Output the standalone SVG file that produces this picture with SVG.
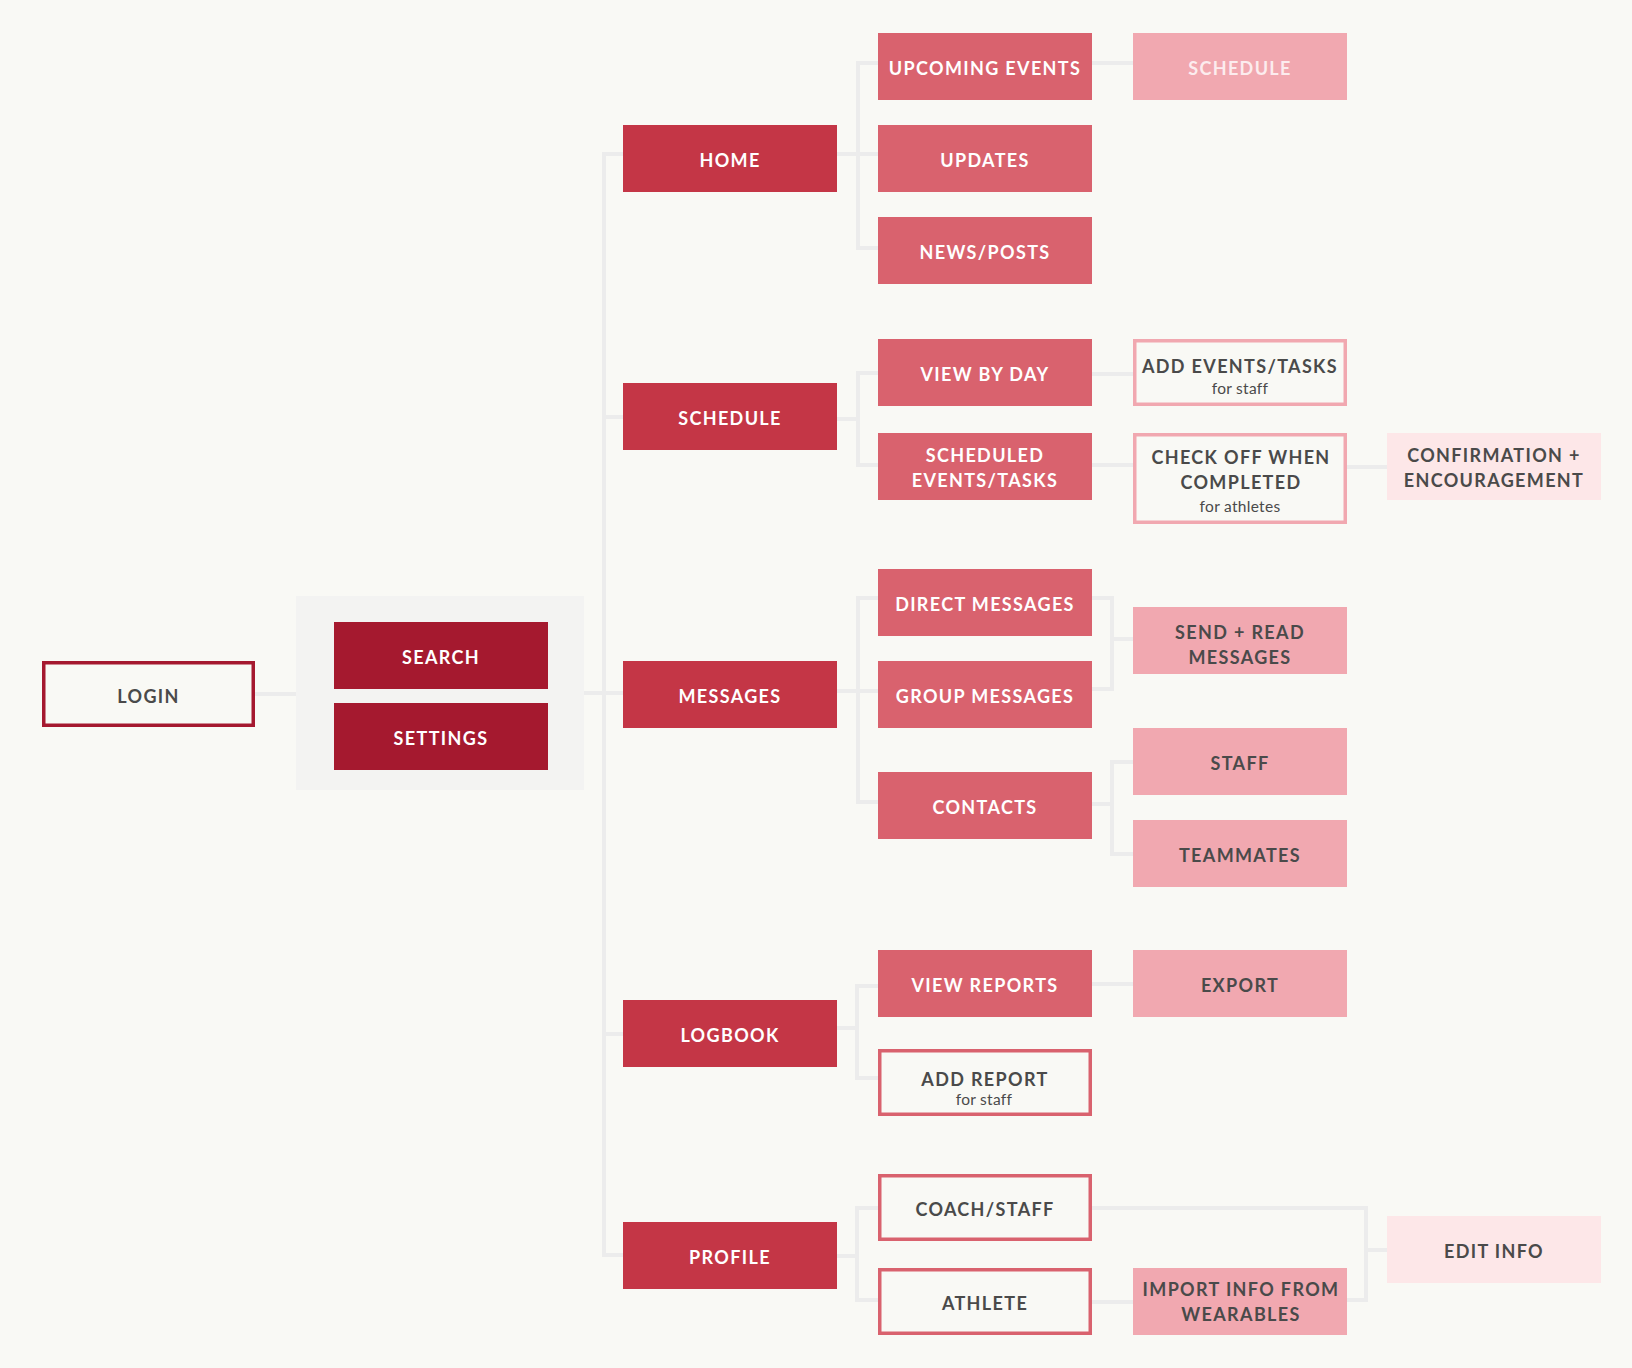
<svg xmlns="http://www.w3.org/2000/svg" width="1632" height="1368" viewBox="0 0 1632 1368">
<defs>
<style>
.bg{fill:#f9f9f5}
.c{fill:none;stroke:#ececec;stroke-width:4}
.d1{fill:#a5192f}
.d2{fill:#c43646}
.d3{fill:#d9626e}
.d4{fill:#f1a8b0}
.d5{fill:#fde7e8}
.o1{fill:#f9f9f5;stroke:#a5192f;stroke-width:3.5}
.o3{fill:#f9f9f5;stroke:#d9626e;stroke-width:3.5}
.o4{fill:#f9f9f5;stroke:#f1a8b0;stroke-width:3.5}
text{font-family:Lato,"Liberation Sans",sans-serif;font-size:18px;font-weight:700;letter-spacing:1.35px;text-anchor:middle}
.w{fill:#ffffff}
.lw{fill:#fcecee}
.k{fill:#4a4a4a}
.s{font-size:15.5px;font-weight:400;letter-spacing:0.3px;fill:#4a4a4a}
</style>
</defs>
<rect class="bg" x="0" y="0" width="1632" height="1368"/>
<rect x="296" y="596" width="288" height="194" fill="#f3f3f2"/>
<g id="connectors">
<path class="c" d="M255,694 H296"/>
<path class="c" d="M584,693 H604"/>
<path class="c" d="M623,154 H604 V1255 H623 M604,417 H623 M604,693 H623 M604,1034 H623"/>
<path class="c" d="M837,154 H878 M878,63 H858 V248 H878 M1092,63 H1133"/>
<path class="c" d="M837,419 H858 M878,373 H858 V465 H878 M1092,374 H1133 M1092,465 H1133 M1347,467 H1387"/>
<path class="c" d="M837,691 H878 M878,598 H858 V802 H878 M1092,598 H1112 V689 H1092 M1112,639 H1133 M1092,804 H1112 M1133,762 H1112 V854 H1133"/>
<path class="c" d="M837,1028 H858 M878,986 H857 V1078 H878 M1092,984 H1133"/>
<path class="c" d="M837,1256 H857 M878,1208 H857 V1300 H878 M1092,1208 H1366 V1300 H1347 M1366,1250 H1387 M1092,1302 H1133"/>
</g>
<g id="login"><rect class="o1" x="43.75" y="662.75" width="209.5" height="62.5"/><text class="k" x="148.5" y="703">LOGIN</text></g>
<g id="search"><rect class="d1" x="334" y="622" width="214" height="67"/><text class="w" x="441" y="664">SEARCH</text></g>
<g id="settings"><rect class="d1" x="334" y="703" width="214" height="67"/><text class="w" x="441" y="745">SETTINGS</text></g>

<g id="home"><rect class="d2" x="623" y="125" width="214" height="67"/><text class="w" x="730" y="167">HOME</text></g>
<g id="upcoming-events"><rect class="d3" x="878" y="33" width="214" height="67"/><text class="w" x="985" y="75">UPCOMING EVENTS</text></g>
<g id="updates"><rect class="d3" x="878" y="125" width="214" height="67"/><text class="w" x="985" y="167">UPDATES</text></g>
<g id="news-posts"><rect class="d3" x="878" y="217" width="214" height="67"/><text class="w" x="985" y="259">NEWS/POSTS</text></g>
<g id="schedule-home"><rect class="d4" x="1133" y="33" width="214" height="67"/><text class="lw" x="1240" y="75">SCHEDULE</text></g>

<g id="schedule"><rect class="d2" x="623" y="383" width="214" height="67"/><text class="w" x="730" y="425">SCHEDULE</text></g>
<g id="view-by-day"><rect class="d3" x="878" y="339" width="214" height="67"/><text class="w" x="985" y="381">VIEW BY DAY</text></g>
<g id="scheduled-events"><rect class="d3" x="878" y="433" width="214" height="67"/><text class="w" x="985" y="462">SCHEDULED</text><text class="w" x="985" y="487">EVENTS/TASKS</text></g>
<g id="add-events"><rect class="o4" x="1134.75" y="340.75" width="210.5" height="63.5"/><text class="k" x="1240" y="373">ADD EVENTS/TASKS</text><text class="s" x="1240" y="394">for staff</text></g>
<g id="check-off"><rect class="o4" x="1134.75" y="434.75" width="210.5" height="87.5"/><text class="k" x="1241" y="464">CHECK OFF WHEN</text><text class="k" x="1241" y="489">COMPLETED</text><text class="s" x="1240" y="511.5">for athletes</text></g>
<g id="confirmation"><rect class="d5" x="1387" y="433" width="214" height="67"/><text class="k" x="1494" y="462">CONFIRMATION +</text><text class="k" x="1494" y="487">ENCOURAGEMENT</text></g>

<g id="messages"><rect class="d2" x="623" y="661" width="214" height="67"/><text class="w" x="730" y="703">MESSAGES</text></g>
<g id="direct-messages"><rect class="d3" x="878" y="569" width="214" height="67"/><text class="w" x="985" y="611">DIRECT MESSAGES</text></g>
<g id="group-messages"><rect class="d3" x="878" y="661" width="214" height="67"/><text class="w" x="985" y="703">GROUP MESSAGES</text></g>
<g id="contacts"><rect class="d3" x="878" y="772" width="214" height="67"/><text class="w" x="985" y="814">CONTACTS</text></g>
<g id="send-read"><rect class="d4" x="1133" y="607" width="214" height="67"/><text class="k" x="1240" y="639">SEND + READ</text><text class="k" x="1240" y="663.5">MESSAGES</text></g>
<g id="staff"><rect class="d4" x="1133" y="728" width="214" height="67"/><text class="k" x="1240" y="769.5">STAFF</text></g>
<g id="teammates"><rect class="d4" x="1133" y="820" width="214" height="67"/><text class="k" x="1240" y="861.5">TEAMMATES</text></g>

<g id="logbook"><rect class="d2" x="623" y="1000" width="214" height="67"/><text class="w" x="730" y="1042">LOGBOOK</text></g>
<g id="view-reports"><rect class="d3" x="878" y="950" width="214" height="67"/><text class="w" x="985" y="992">VIEW REPORTS</text></g>
<g id="export"><rect class="d4" x="1133" y="950" width="214" height="67"/><text class="k" x="1240" y="992">EXPORT</text></g>
<g id="add-report"><rect class="o3" x="879.75" y="1050.75" width="210.5" height="63.5"/><text class="k" x="985" y="1086">ADD REPORT</text><text class="s" x="984" y="1104.5">for staff</text></g>

<g id="profile"><rect class="d2" x="623" y="1222" width="214" height="67"/><text class="w" x="730" y="1264">PROFILE</text></g>
<g id="coach-staff"><rect class="o3" x="879.75" y="1175.75" width="210.5" height="63.5"/><text class="k" x="985" y="1216">COACH/STAFF</text></g>
<g id="athlete"><rect class="o3" x="879.75" y="1269.75" width="210.5" height="63.5"/><text class="k" x="985" y="1310">ATHLETE</text></g>
<g id="import-info"><rect class="d4" x="1133" y="1268" width="214" height="67"/><text class="k" x="1241" y="1296">IMPORT INFO FROM</text><text class="k" x="1241" y="1321">WEARABLES</text></g>
<g id="edit-info"><rect class="d5" x="1387" y="1216" width="214" height="67"/><text class="k" x="1494" y="1258">EDIT INFO</text></g>
</svg>
